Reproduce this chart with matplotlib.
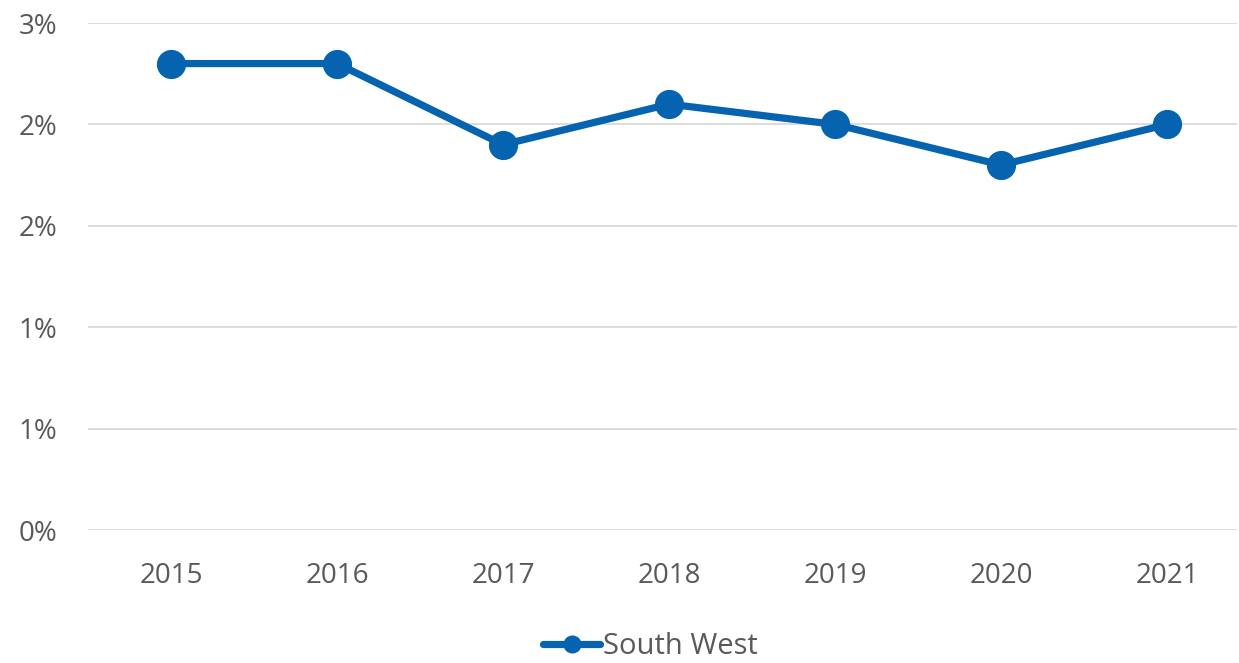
import numpy as np
import matplotlib.pyplot as plt
from matplotlib.ticker import FuncFormatter, MultipleLocator

plt.rcParams['font.family'] = ['Open Sans', 'DejaVu Sans']

years = ['2015', '2016', '2017', '2018', '2019', '2020', '2021']
south_west = [2.3, 2.3, 1.9, 2.1, 2.0, 1.8, 2.0]

blue = '#0563b0'
grey_text = '#595959'

fig = plt.figure(figsize=(12.39, 6.63), dpi=100)
ax = fig.add_axes([0.071, 0.2006, 0.9274, 0.7647])

x = np.arange(len(years))
ax.plot(x, south_west, color=blue, lw=5.2, marker='o', ms=20,
        label='South West', solid_capstyle='round', zorder=3)

ax.set_xlim(-0.5, 6.42)
ax.set_ylim(0, 2.5)
ax.yaxis.set_major_locator(MultipleLocator(0.5))
ax.yaxis.set_major_formatter(FuncFormatter(lambda v, p: f"{int(v + 0.5)}%"))
ax.set_xticks(x)
ax.set_xticklabels(years)

ax.grid(axis='y', color='#d9d9d9', lw=1.3)
ax.set_axisbelow(True)
for s in ax.spines.values():
    s.set_visible(False)
ax.tick_params(axis='both', length=0, labelsize=20, colors=grey_text)
ax.tick_params(axis='x', pad=23)
ax.tick_params(axis='y', pad=22)

fig.legend(loc='center', bbox_to_anchor=(0.525, 0.025), frameon=False,
           fontsize=21, labelcolor=grey_text, handlelength=1.95,
           handletextpad=0.1, markerscale=0.6, borderpad=0)

fig.savefig('out.png', dpi=100)
